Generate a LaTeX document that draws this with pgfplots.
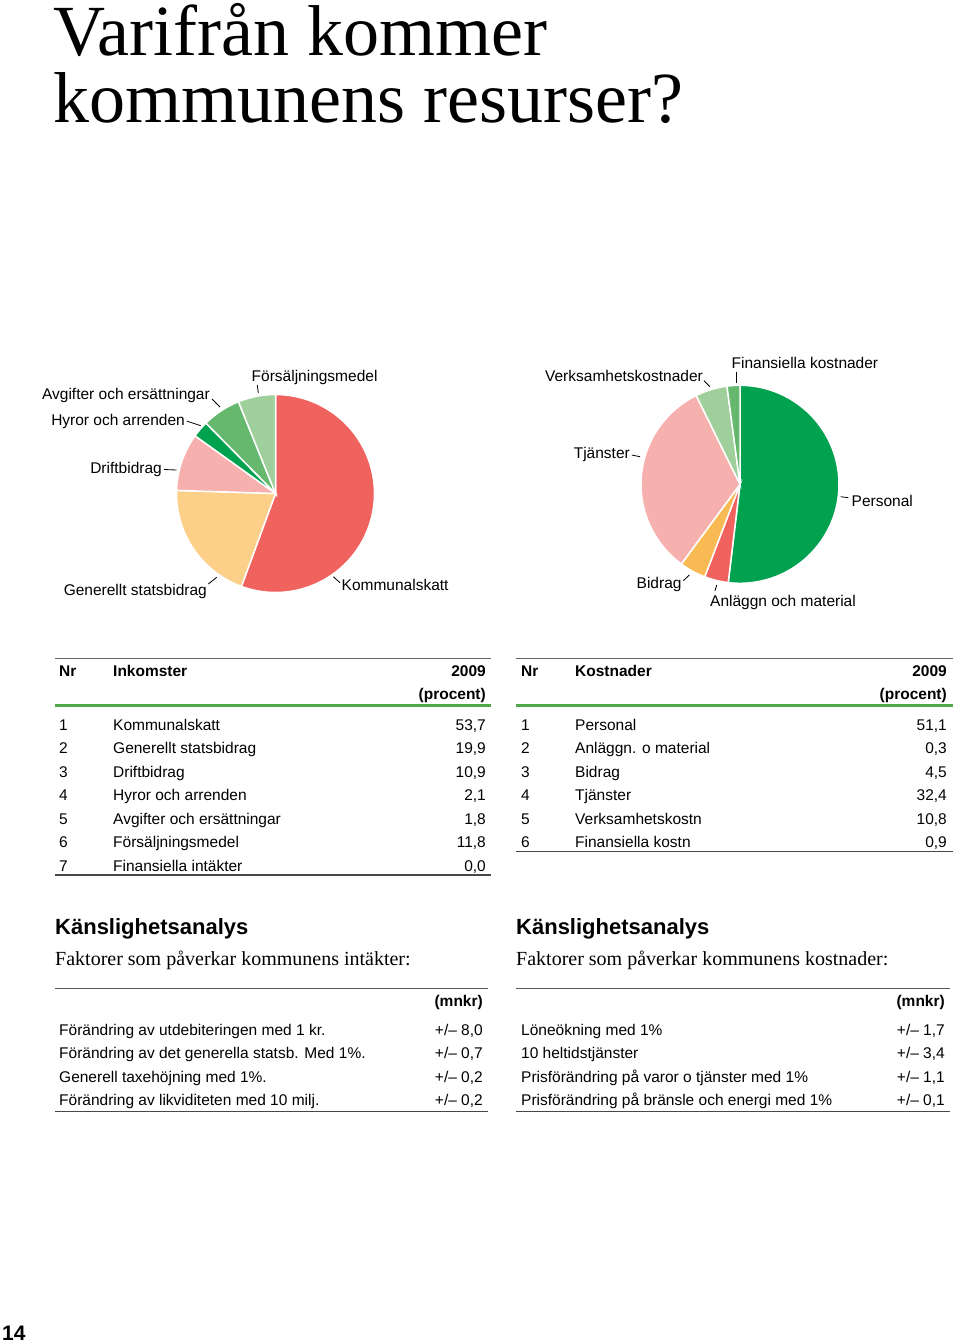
\documentclass[border=0pt]{standalone}
\usepackage{fontspec}
\setmainfont{Liberation Sans}
\newfontfamily\serif{Liberation Serif}
\usepackage{pgfplots}
\pgfplotsset{compat=1.18}
\usepgfplotslibrary{polar}
\definecolor{cRed}{HTML}{F0625D}
\definecolor{cYel}{HTML}{FDD08A}
\definecolor{cPink}{HTML}{F6B0AE}
\definecolor{cDG}{HTML}{00A14F}
\definecolor{cMG}{HTML}{66B86F}
\definecolor{cLG}{HTML}{9FCF9B}
\definecolor{cOr}{HTML}{F9BA53}
\definecolor{cRule}{RGB}{80,168,74}
\begin{document}
\begin{tikzpicture}[x=1pt,y=-1pt]
\path[use as bounding box] (0,0) rectangle (960,1342);
\coordinate (pieL) at (275.5,493.5);
\coordinate (pieR) at (740,484.3);
\tikzset{lab/.style={font=\fontsize{15.5}{18}\selectfont, inner sep=0pt},
  bl/.style={lab,anchor=base west}, br/.style={lab,anchor=base east},
  ld/.style={line width=0.8pt}}
% Title
\node[anchor=base west, inner sep=0pt, font=\serif\fontsize{72}{72}\selectfont] at (53,55) {Varifrån kommer};
\node[anchor=base west, inner sep=0pt, font=\serif\fontsize{72}{72}\selectfont] at (53,122.5) {kommunens resurser?};
% Left pie: shares (percent)
\begin{polaraxis}[at={(pieL)}, anchor=center, scale only axis, width=198pt, height=198pt,
  hide axis, xmin=0, xmax=360, ymin=0, ymax=1, clip=false]
\addplot[fill=cRed, draw=white, line width=1.5pt, domain={90-3.6*55.6}:90, samples=80] {1} -- (axis cs:0,0) -- cycle;
\addplot[fill=cYel, draw=white, line width=1.5pt, domain={90-3.6*(55.6+19.9)}:{90-3.6*55.6}, samples=40] {1} -- (axis cs:0,0) -- cycle;
\addplot[fill=cPink, draw=white, line width=1.5pt, domain={90-3.6*84.9}:{90-3.6*75.5}, samples=30] {1} -- (axis cs:0,0) -- cycle;
\addplot[fill=cDG, draw=white, line width=1.5pt, domain={90-3.6*87.6}:{90-3.6*84.9}, samples=10] {1} -- (axis cs:0,0) -- cycle;
\addplot[fill=cMG, draw=white, line width=1.5pt, domain={90-3.6*93.9}:{90-3.6*87.6}, samples=20] {1} -- (axis cs:0,0) -- cycle;
\addplot[fill=cLG, draw=white, line width=1.5pt, domain={90-3.6*100}:{90-3.6*93.9}, samples=20] {1} -- (axis cs:0,0) -- cycle;
\end{polaraxis}
% Right pie
\begin{polaraxis}[at={(pieR)}, anchor=center, scale only axis, width=198pt, height=198pt,
  hide axis, xmin=0, xmax=360, ymin=0, ymax=1, clip=false]
\addplot[fill=cDG, draw=white, line width=1.5pt, domain={90-3.6*51.9}:90, samples=80] {1} -- (axis cs:0,0) -- cycle;
\addplot[fill=cRed, draw=white, line width=1.5pt, domain={90-3.6*55.8}:{90-3.6*51.9}, samples=10] {1} -- (axis cs:0,0) -- cycle;
\addplot[fill=cOr, draw=white, line width=1.5pt, domain={90-3.6*60.1}:{90-3.6*55.8}, samples=10] {1} -- (axis cs:0,0) -- cycle;
\addplot[fill=cPink, draw=white, line width=1.5pt, domain={90-3.6*92.7}:{90-3.6*60.1}, samples=60] {1} -- (axis cs:0,0) -- cycle;
\addplot[fill=cLG, draw=white, line width=1.5pt, domain={90-3.6*97.9}:{90-3.6*92.7}, samples=15] {1} -- (axis cs:0,0) -- cycle;
\addplot[fill=cMG, draw=white, line width=1.5pt, domain={90-3.6*100}:{90-3.6*97.9}, samples=8] {1} -- (axis cs:0,0) -- cycle;
\end{polaraxis}
% Left pie labels
\node[br] at (210,399) {Avgifter och ersättningar};
\draw[ld] (212,399) -- (220,407);
\node[br] at (185,425) {Hyror och arrenden};
\draw[ld] (186.7,421) -- (200.7,425.7);
\node[bl] at (251.5,381.7) {Försäljningsmedel};
\draw[ld] (257.3,385) -- (258.3,393);
\node[br] at (162,473.3) {Driftbidrag};
\draw[ld] (164,469.5) -- (176.5,470);
\node[br] at (207,595.7) {Generellt statsbidrag};
\draw[ld] (208.3,584) -- (216.7,577.3);
\node[bl] at (341.5,590) {Kommunalskatt};
\draw[ld] (333.3,576.7) -- (340,582.7);
% Right pie labels
\node[bl] at (731.5,368.3) {Finansiella kostnader};
\draw[ld] (736.7,371.5) -- (736.7,383.3);
\node[br] at (703,381) {Verksamhetskostnader};
\draw[ld] (704,380.7) -- (710,386.7);
\node[br] at (630,458.3) {Tjänster};
\draw[ld] (631.7,455) -- (640,456.7);
\node[bl] at (851.5,506.7) {Personal};
\draw[ld] (840.7,496.7) -- (848.3,497.7);
\node[br] at (681.7,588.3) {Bidrag};
\draw[ld] (683.3,580.7) -- (689.3,575);
\node[bl] at (710,606) {Anläggn och material};
\draw[ld] (715,590.7) -- (716.7,585);
% Left table
\draw[line width=1.5pt, black!60] (55,658.3) -- (491,658.3);
\draw[line width=3.5pt, cRule] (55,705.5) -- (491,705.5);
\draw[line width=1.8pt, black!72] (55,875) -- (491,875);
\node[bl,font=\bfseries\fontsize{15.5}{18}\selectfont] at (59,676) {Nr};
\node[bl,font=\bfseries\fontsize{15.5}{18}\selectfont] at (113,676) {Inkomster};
\node[br,font=\bfseries\fontsize{15.5}{18}\selectfont] at (486,676) {2009};
\node[br,font=\bfseries\fontsize{15.5}{18}\selectfont] at (486,699.5) {(procent)};
\foreach \n/\t/\v [count=\i from 0] in {1/Kommunalskatt/{53,7},2/Generellt statsbidrag/{19,9},3/Driftbidrag/{10,9},4/Hyror och arrenden/{2,1},5/Avgifter och ersättningar/{1,8},6/Försäljningsmedel/{11,8},7/Finansiella intäkter/{0,0}}{
  \node[bl] at (59,730+23.5*\i) {\n};
  \node[bl] at (113,730+23.5*\i) {\t};
  \node[br] at (486,730+23.5*\i) {\v};
}
% Right table
\draw[line width=1.5pt, black!60] (516,658.3) -- (952.5,658.3);
\draw[line width=3.5pt, cRule] (516,705.5) -- (952.5,705.5);
\draw[line width=1.8pt, black!72] (516,851.5) -- (952.5,851.5);
\node[bl,font=\bfseries\fontsize{15.5}{18}\selectfont] at (521,676) {Nr};
\node[bl,font=\bfseries\fontsize{15.5}{18}\selectfont] at (575,676) {Kostnader};
\node[br,font=\bfseries\fontsize{15.5}{18}\selectfont] at (947,676) {2009};
\node[br,font=\bfseries\fontsize{15.5}{18}\selectfont] at (947,699.5) {(procent)};
\foreach \n/\t/\v [count=\i from 0] in {1/Personal/{51,1},2/Anläggn. o material/{0,3},3/Bidrag/{4,5},4/Tjänster/{32,4},5/Verksamhetskostn/{10,8},6/Finansiella kostn/{0,9}}{
  \node[bl] at (521,730+23.5*\i) {\n};
  \node[bl] at (575,730+23.5*\i) {\t};
  \node[br] at (947,730+23.5*\i) {\v};
}
% Sensitivity left
\node[anchor=base west, inner sep=0pt, font=\bfseries\fontsize{22}{24}\selectfont] at (55,934) {Känslighetsanalys};
\node[anchor=base west, inner sep=0pt, font=\serif\fontsize{20}{22}\selectfont] at (55,965) {Faktorer som påverkar kommunens intäkter:};
\draw[line width=1.8pt, black!65] (55,988.5) -- (488,988.5);
\draw[line width=1.8pt, black!72] (55,1111.5) -- (488,1111.5);
\node[br,font=\bfseries\fontsize{15.5}{18}\selectfont] at (483,1006.7) {(mnkr)};
\foreach \t/\v [count=\i from 0] in {Förändring av utdebiteringen med 1 kr./{+/– 8,0},Förändring av det generella statsb. Med 1\%./{+/– 0,7},Generell taxehöjning med 1\%./{+/– 0,2},Förändring av likviditeten med 10 milj./{+/– 0,2}}{
  \node[bl] at (59,1035+23.5*\i) {\t};
  \node[br] at (483,1035+23.5*\i) {\v};
}
% Sensitivity right
\node[anchor=base west, inner sep=0pt, font=\bfseries\fontsize{22}{24}\selectfont] at (516,934) {Känslighetsanalys};
\node[anchor=base west, inner sep=0pt, font=\serif\fontsize{20}{22}\selectfont] at (516,965) {Faktorer som påverkar kommunens kostnader:};
\draw[line width=1.8pt, black!65] (516,988.5) -- (950,988.5);
\draw[line width=1.8pt, black!72] (516,1111.5) -- (950,1111.5);
\node[br,font=\bfseries\fontsize{15.5}{18}\selectfont] at (945,1006.7) {(mnkr)};
\foreach \t/\v [count=\i from 0] in {Löneökning med 1\%/{+/– 1,7},10 heltidstjänster/{+/– 3,4},Prisförändring på varor o tjänster med 1\%/{+/– 1,1},Prisförändring på bränsle och energi med 1\%/{+/– 0,1}}{
  \node[bl] at (521,1035+23.5*\i) {\t};
  \node[br] at (945,1035+23.5*\i) {\v};
}
% Page number
\node[anchor=base west, inner sep=0pt, font=\bfseries\fontsize{21}{22}\selectfont] at (2,1340) {14};
\end{tikzpicture}
\end{document}
